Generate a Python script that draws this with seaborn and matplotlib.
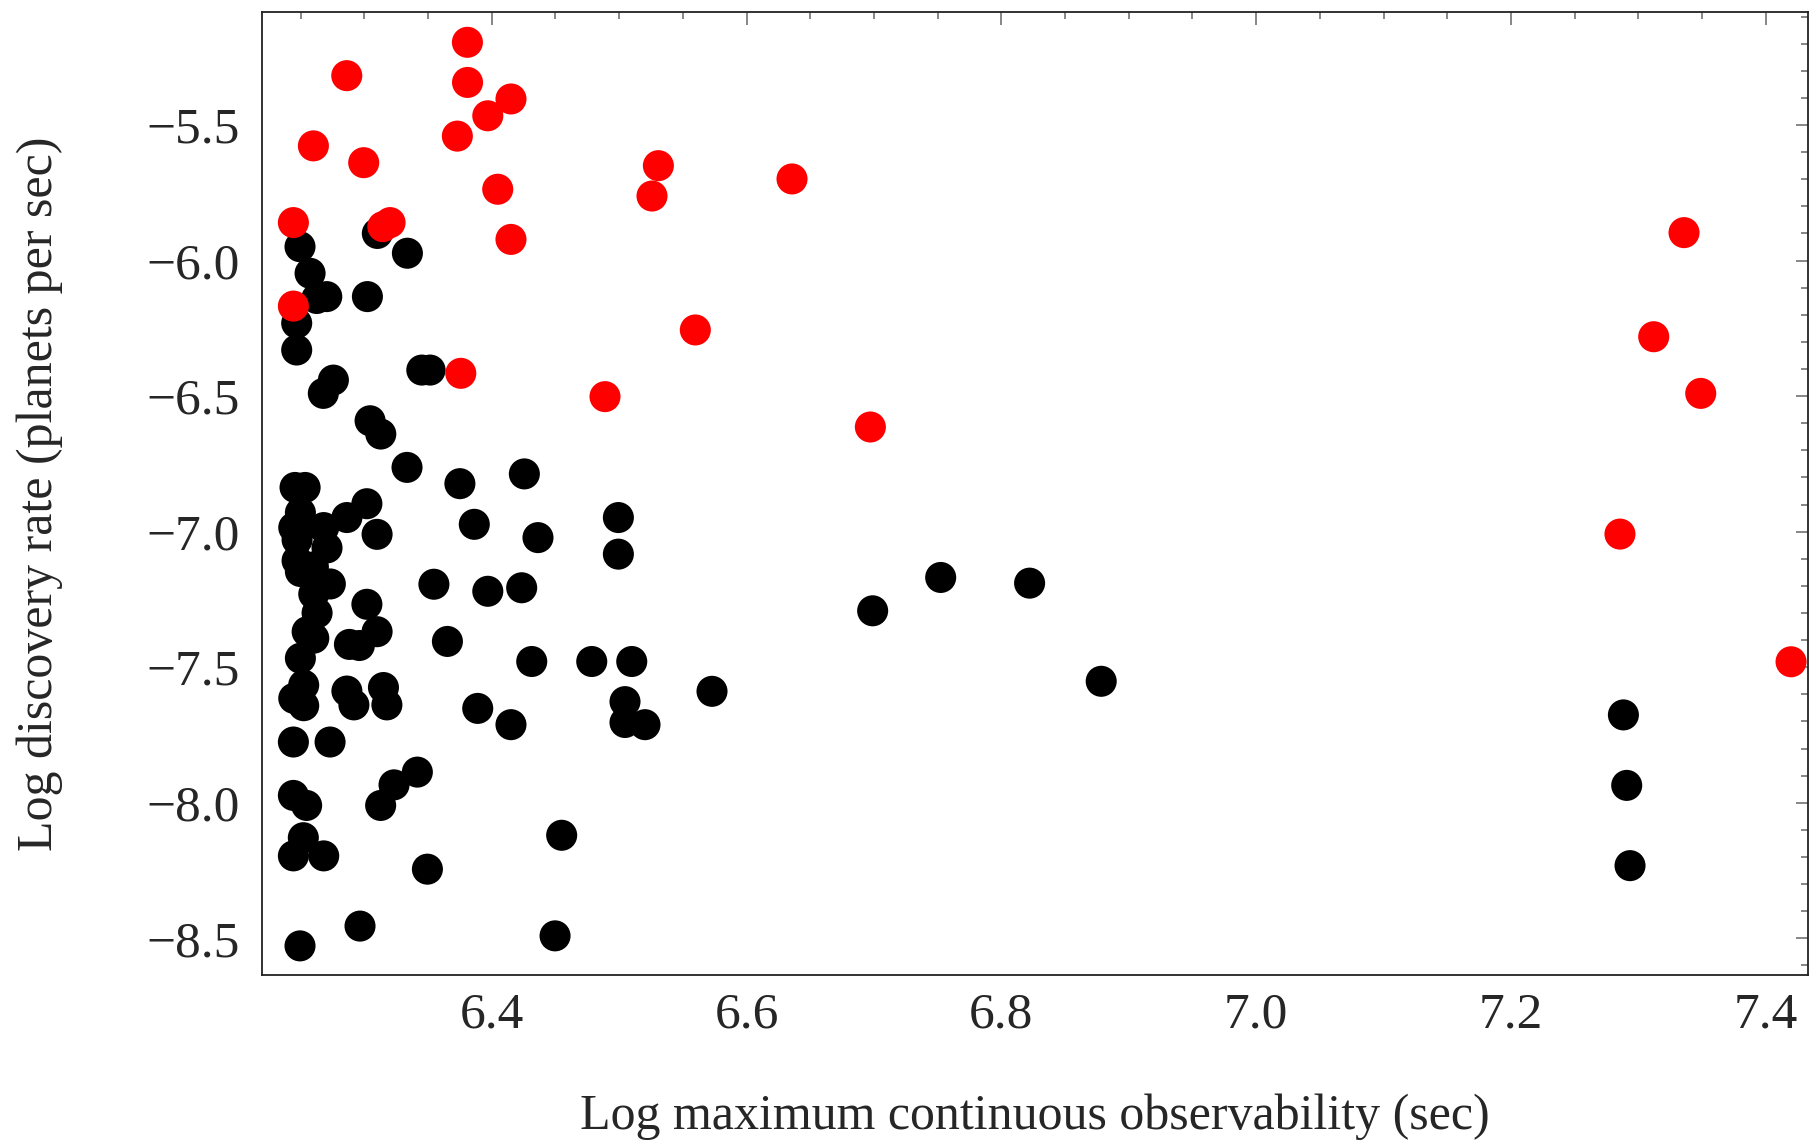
import numpy as np
import pandas as pd
import matplotlib
matplotlib.use("Agg")
import matplotlib.pyplot as plt
import seaborn as sns
from matplotlib.ticker import MultipleLocator, FixedLocator, FuncFormatter

# ---- data ----
black_x = [
    6.2495, 6.2574, 6.2626, 6.2705, 6.2469, 6.2469, 6.3024, 6.3338, 6.3102,
    6.2757, 6.2678, 6.3045, 6.3129, 6.3451, 6.3516, 6.3335, 6.3750, 6.4256,
    6.2456, 6.2535, 6.3020, 6.2863, 6.3100, 6.3863, 6.4363, 6.4994, 6.4994,
    6.3546, 6.3969, 6.4235, 6.3020, 6.3100, 6.2883, 6.2961, 6.3652, 6.4314,
    6.4785, 6.5099, 6.5729, 6.2863, 6.3150, 6.2918, 6.3177, 6.3890, 6.4151,
    6.5046, 6.5046, 6.5203, 6.2443, 6.2731, 6.3416, 6.3233, 6.3128, 6.2443,
    6.2547, 6.4549, 6.2521, 6.2443, 6.2681, 6.3495, 6.2966, 6.4497, 6.2495,
    6.2498, 6.2446, 6.2681, 6.2472, 6.2707, 6.2472, 6.2498, 6.2600, 6.2733,
    6.2603, 6.2629, 6.2551, 6.2603, 6.2498, 6.2524, 6.2446, 6.2524,
    6.6990, 6.7524, 6.8222, 6.8784,
    7.2883, 7.2909, 7.2935,
]
black_y = [
    -5.949, -6.047, -6.140, -6.133, -6.231, -6.330, -6.133, -5.973, -5.900,
    -6.441, -6.490, -6.591, -6.640, -6.404, -6.404, -6.763, -6.823, -6.787,
    -6.837, -6.837, -6.897, -6.948, -7.010, -6.973, -7.022, -6.948, -7.083,
    -7.194, -7.220, -7.207, -7.268, -7.369, -7.416, -7.420, -7.405, -7.479,
    -7.479, -7.479, -7.589, -7.588, -7.575, -7.639, -7.639, -7.652, -7.712,
    -7.627, -7.704, -7.712, -7.776, -7.776, -7.887, -7.934, -8.010, -7.973,
    -8.010, -8.120, -8.129, -8.196, -8.196, -8.245, -8.455, -8.491, -8.528,
    -6.930, -6.985, -6.985, -7.030, -7.060, -7.107, -7.147, -7.130, -7.193,
    -7.230, -7.300, -7.369, -7.393, -7.467, -7.566, -7.615, -7.642,
    -7.292, -7.169, -7.190, -7.552,
    -7.676, -7.936, -8.232,
]
red_x = [
    6.3809, 6.2862, 6.3810, 6.4151, 6.3969, 6.3730, 6.2600, 6.2995, 6.5308,
    6.5258, 6.4047, 6.2443, 6.3145, 6.3202, 6.4151, 6.2443, 6.5598, 6.3757,
    6.4889, 6.6357, 6.6972, 7.3359, 7.3121, 7.3490, 7.2856, 7.4199,
]
red_y = [
    -5.195, -5.318, -5.343, -5.404, -5.466, -5.541, -5.577, -5.639, -5.650,
    -5.762, -5.737, -5.860, -5.875, -5.860, -5.922, -6.168, -6.256, -6.416,
    -6.502, -5.699, -6.614, -5.897, -6.281, -6.490, -7.009, -7.480,
]

xlabel = "Log maximum continuous observability (sec)"
ylabel = "Log discovery rate (planets per sec)"
xticks = [6.4, 6.6, 6.8, 7.0, 7.2, 7.4]
yticks = [-5.5, -6.0, -6.5, -7.0, -7.5, -8.0, -8.5]

df = pd.DataFrame({
    "x": black_x + red_x,
    "y": black_y + red_y,
    "group": ["black"] * len(black_x) + ["red"] * len(red_x),
})

# ---- style ----
sns.set_style("white")
plt.rcParams["font.family"] = ["Liberation Serif", "DejaVu Serif"]
plt.rcParams["axes.unicode_minus"] = True

W, H = 1810, 1144
fig = plt.figure(figsize=(W / 100, H / 100), dpi=100)
ax_l, ax_r, ax_t, ax_b = 262.3, 1808.0, 12.3, 975.0
ax = fig.add_axes([ax_l / W, 1 - ax_b / H, (ax_r - ax_l) / W, (ax_b - ax_t) / H])

sns.scatterplot(data=df, x="x", y="y", hue="group",
                palette={"black": "#000000", "red": "#ff0000"},
                s=500, linewidth=0, legend=False, ax=ax, zorder=3)

ax.set_xlim(6.2199, 7.4332)
ax.set_ylim(-8.6354, -5.0843)

ax.xaxis.set_major_locator(FixedLocator(xticks))
ax.xaxis.set_minor_locator(MultipleLocator(0.05))
ax.yaxis.set_major_locator(FixedLocator(yticks))
ax.yaxis.set_minor_locator(MultipleLocator(0.1))
fmt = FuncFormatter(lambda v, p: f"{v:.1f}".replace("-", "\u2212"))
ax.xaxis.set_major_formatter(fmt)
ax.yaxis.set_major_formatter(fmt)

ax.tick_params(which="both", direction="in", top=True, right=True,
               color="#666666", width=1.1)
ax.tick_params(which="major", length=9, labelsize=37, pad=12)
ax.tick_params(which="minor", length=5)
ax.tick_params(axis="y", which="major", pad=16)

for sp in ax.spines.values():
    sp.set_visible(True)
    sp.set_color("#222222")
    sp.set_linewidth(1.3)

ax.set_xlabel(xlabel, fontsize=36)
ax.set_ylabel(ylabel, fontsize=36)
ax.xaxis.set_label_coords(0.5, -(1117 - ax_b) / (ax_b - ax_t))
ax.xaxis.label.set_va("center")
ax.yaxis.set_label_coords(-(ax_l - 40) / (ax_r - ax_l), 0.5)
ax.yaxis.label.set_va("center")

fig.savefig("out.png", dpi=100, facecolor="white")
